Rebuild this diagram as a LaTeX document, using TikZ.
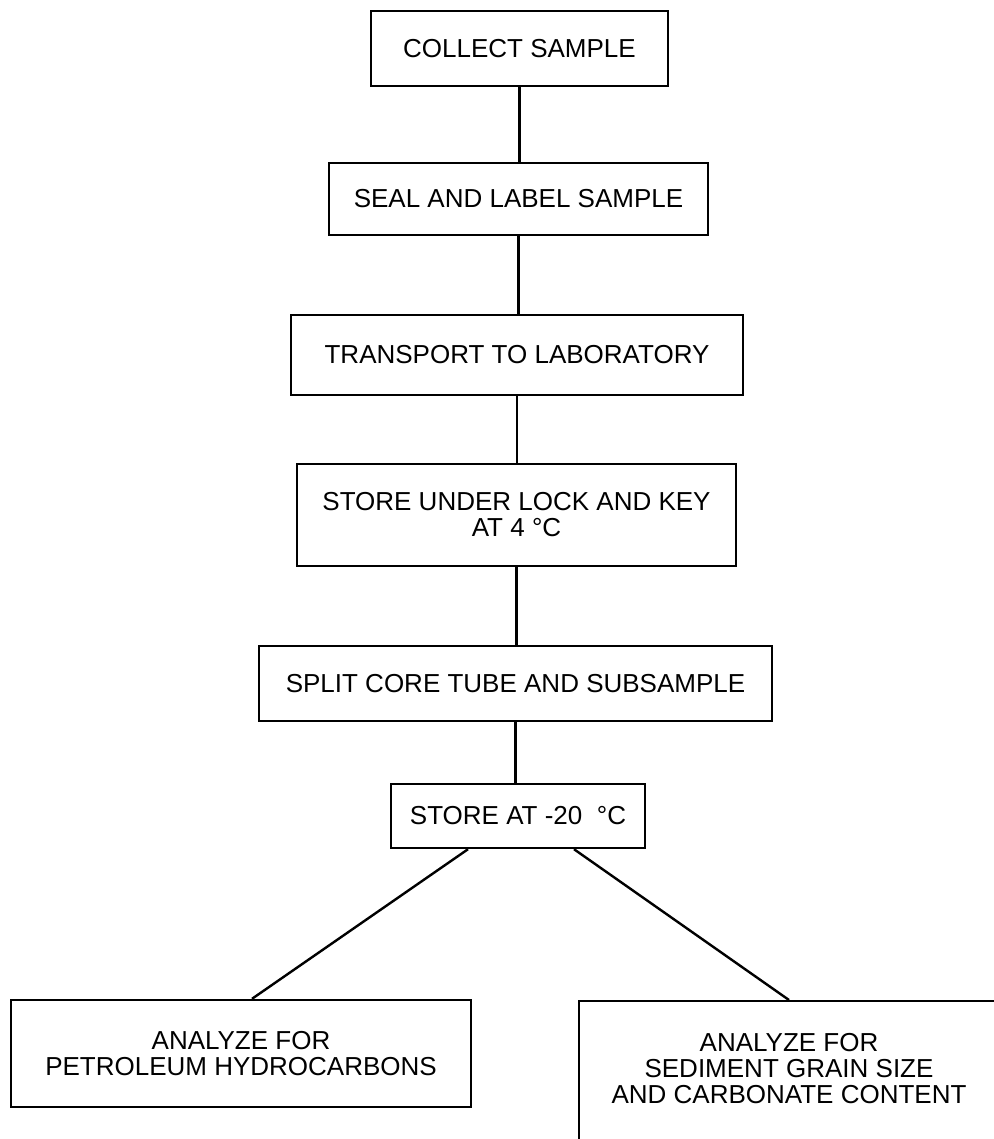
\documentclass[tikz,border=0pt]{standalone}
\usepackage{fontspec}
\setmainfont{Liberation Sans}

\begin{document}
\begin{tikzpicture}[x=0.5pt,y=-0.5pt,
  procbox/.style={draw,line width=1.2pt,align=center,inner sep=0pt,
    font=\fontsize{13}{13}\selectfont},
  link/.style={line width=1.2pt}]
% Page
\path[use as bounding box,clip] (0,0) rectangle (994,1139);

% Steps
\node[procbox,minimum width=148.5pt,minimum height=37.5pt] (collect) at (519.5,48.5) {COLLECT SAMPLE};
\node[procbox,minimum width=189.5pt,minimum height=36pt] (seal) at (518.5,199) {SEAL AND LABEL SAMPLE};
\node[procbox,minimum width=226pt,minimum height=40pt] (transport) at (517,355) {TRANSPORT TO LABORATORY};
\node[procbox,minimum width=219.5pt,minimum height=51pt] (lockkey) at (516.5,515) {STORE UNDER LOCK AND KEY\\AT 4 °C};
\node[procbox,minimum width=256.5pt,minimum height=37.5pt] (split) at (515.5,683.5) {SPLIT CORE TUBE AND SUBSAMPLE};
\node[procbox,minimum width=127pt,minimum height=32pt] (freeze) at (518,816) {STORE AT -20\ \ °C};

% Analyses
\node[procbox,minimum width=230pt,minimum height=53.5pt] (petrol) at (241,1053.5) {ANALYZE FOR\\PETROLEUM HYDROCARBONS};
\node[procbox,anchor=north,minimum width=210pt,inner ysep=16pt,text depth=10pt] (sediment) at (789,1000) {ANALYZE FOR\\SEDIMENT GRAIN SIZE\\AND CARBONATE CONTENT};

% Connectors
\draw[link] (collect.south) -- (collect.south |- seal.north);
\draw[link] (seal.south) -- (seal.south |- transport.north);
\draw[link] (transport.south) -- (transport.south |- lockkey.north);
\draw[link] (lockkey.south) -- (lockkey.south |- split.north);
\draw[link] (split.south) -- (split.south |- freeze.north);
\draw[link] ([xshift=-25pt]freeze.south) -- ([xshift=5.5pt]petrol.north);
\draw[link] ([xshift=28pt]freeze.south) -- (sediment.north);
\end{tikzpicture}
\end{document}
